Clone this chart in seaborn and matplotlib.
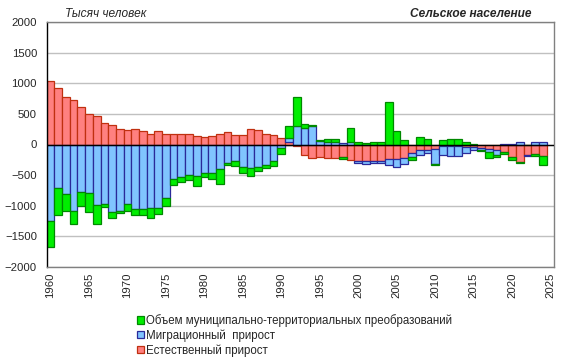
import matplotlib
matplotlib.use("Agg")
import matplotlib.pyplot as plt
from matplotlib.patches import Patch
import numpy as np
import pandas as pd
import seaborn as sns

years = list(range(1960, 2025))

# естественный прирост (тыс. чел.)
natural = [1038, 918, 771, 727, 607, 492, 459, 344, 312, 246,
           230, 246, 213, 180, 213, 164, 180, 164, 164, 131,
           120, 131, 180, 197, 148, 148, 246, 230, 180, 148,
           100, 44, -27, -164, -213, -197, -213, -213, -200, -255,
           -265, -276, -273, -273, -243, -245, -227, -131, -93, -82,
           -66, -27, -22, -22, -38, -49, -60, -77, -82, -126,
           -210, -279, -180, -153, -190]

# миграционный прирост
migration = [-1257, -711, -804, -1082, -771, -798, -984, -968, -1104, -1082,
             -968, -1050, -1050, -1033, -1033, -869, -560, -525, -495, -519,
             -473, -473, -394, -310, -262, -365, -380, -375, -330, -265,
             -65, 68, 310, 275, 306, 50, 33, 33, 30, 46,
             -30, -35, -30, -33, -90, -120, -100, -66, -71, -49,
             -246, -137, -159, -159, -93, -38, -33, -49, -98, 11,
             11, 49, -15, 33, 33]

# муниципально-территориальные преобразования
municipal = [-416, -437, -278, -214, -229, -301, -312, -49, -93, -33,
             -114, -98, -98, -164, -99, -131, -96, -84, -82, -153,
             -52, -85, -246, -25, -98, -98, -128, -57, -49, -84,
             -87, 183, 462, 66, 8, 16, 54, 54, -30, 218,
             44, 22, 33, 33, 700, 216, 68, -50, 115, 98,
             -22, 71, 98, 82, 44, 16, -16, -87, -22, -27,
             -49, -16, 0, -38, -150]

labels = ["Объем муниципально-территориальных преобразований",
          "Миграционный  прирост",
          "Естественный прирост"]

sns.set_style("white")
plt.rcParams["font.family"] = ["Liberation Sans", "DejaVu Sans"]

fig = plt.figure(figsize=(5.75, 3.6), dpi=100)
ax = fig.add_axes([46.7 / 575, 1 - 266.7 / 360, (554.3 - 46.7) / 575, (266.7 - 22.3) / 360])

series = [
    ("natural", natural, "#ff8080", "#c03010"),
    ("migration", migration, "#80c4ff", "#2a2a9a"),
    ("municipal", municipal, "#00ee00", "#008800"),
]

pos = np.zeros(len(years))
neg = np.zeros(len(years))
for name, vals, fc, ec in series:
    v = np.array(vals, dtype=float)
    bottom = np.where(v >= 0, pos, neg)
    df = pd.DataFrame({"year": years, "value": v})
    sns.barplot(data=df, x="year", y="value", native_scale=True, width=1.0,
                bottom=bottom, color=fc, edgecolor=ec, linewidth=0.9,
                saturation=1, errorbar=None, ax=ax, zorder=2)
    pos = pos + np.where(v >= 0, v, 0)
    neg = neg + np.where(v < 0, v, 0)

ax.set_xlim(1959.5, 2025.5)
ax.set_ylim(-2000, 2000)
ax.set_yticks(range(-2000, 2001, 500))
ax.set_xticks(range(1960, 2026, 5))
ax.set_xticklabels([str(y) for y in range(1960, 2026, 5)], rotation=90, fontsize=8.2)
ax.tick_params(axis="y", labelsize=8.2, length=0, pad=7)
ax.tick_params(axis="x", length=0, pad=4)
ax.set_xlabel("")
ax.set_ylabel("")
ax.yaxis.grid(True, color="#c0c0c0", linewidth=1)
ax.set_axisbelow(True)
ax.axhline(0, color="black", linewidth=1, zorder=3)

for side in ["top", "right", "bottom"]:
    ax.spines[side].set_color("#808080")
ax.spines["left"].set_color("black")
for s in ax.spines.values():
    s.set_linewidth(1)

fig.text(65 / 575, 1 - 14 / 360, "Тысяч человек", style="italic",
         fontsize=8.6, ha="left", va="center")
fig.text(532 / 575, 1 - 14 / 360, "Сельское население", style="italic",
         fontweight="bold", fontsize=8.6, ha="right", va="center")

handles = [Patch(facecolor=fc, edgecolor=ec, linewidth=0.9)
           for _, _, fc, ec in series[::-1]]
fig.legend(handles, labels, loc="upper left",
           bbox_to_anchor=(137 / 575, 1 - 314 / 360), frameon=False,
           fontsize=8.3, handlelength=0.6, handleheight=0.6,
           handletextpad=0.2, labelspacing=0.2, borderaxespad=0,
           borderpad=0)

fig.savefig("out.png", dpi=100)
